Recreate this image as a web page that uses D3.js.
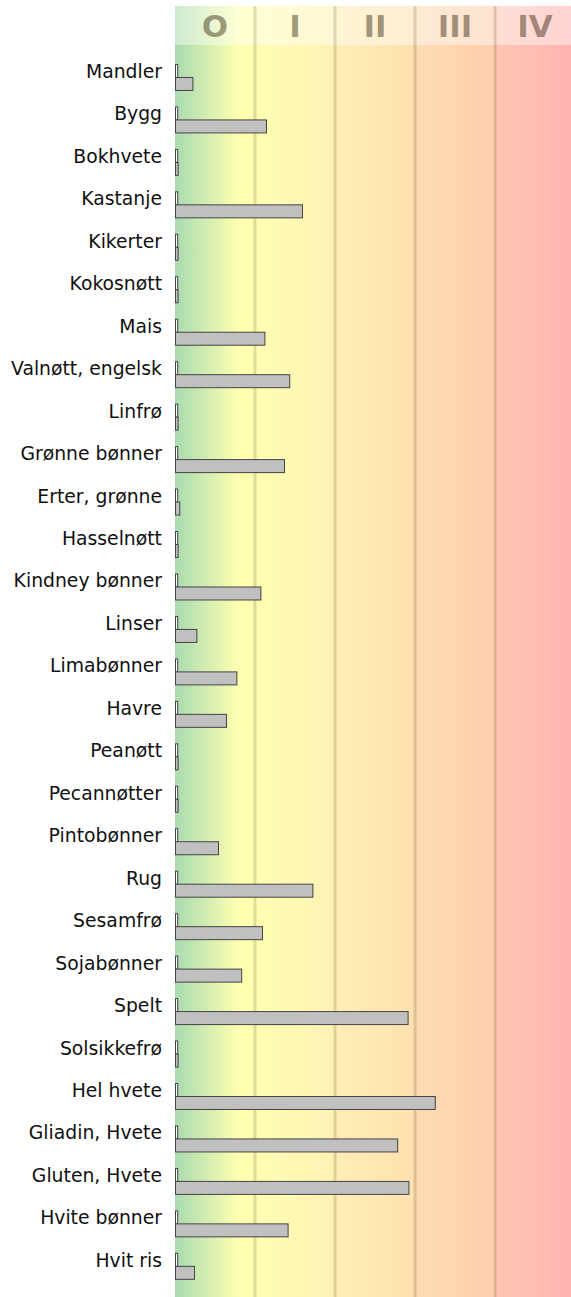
<!DOCTYPE html>
<html>
<head>
<meta charset="utf-8">
<script src="https://cdn.jsdelivr.net/npm/d3@7"></script>
<style>
    body { margin: 0; background: #fff; }
    text { font-family: "DejaVu Sans", Verdana, sans-serif; }
</style>
</head>
<body>
<svg id="chart" width="571" height="1297"></svg>
<script>
var foods = ["Mandler", "Bygg", "Bokhvete", "Kastanje", "Kikerter", "Kokosnøtt", "Mais",
    "Valnøtt, engelsk", "Linfrø", "Grønne bønner", "Erter, grønne", "Hasselnøtt",
    "Kindney bønner", "Linser", "Limabønner", "Havre", "Peanøtt", "Pecannøtter",
    "Pintobønner", "Rug", "Sesamfrø", "Sojabønner", "Spelt", "Solsikkefrø", "Hel hvete",
    "Gliadin, Hvete", "Gluten, Hvete", "Hvite bønner", "Hvit ris"]

// reference (small white bar) and measured level, in class units
var reference = [0.04, 0.04, 0.04, 0.04, 0.04, 0.04, 0.04, 0.04, 0.04, 0.04, 0.04, 0.04, 0.04, 0.04,
    0.04, 0.04, 0.04, 0.04, 0.04, 0.04, 0.04, 0.04, 0.04, 0.04, 0.04, 0.04, 0.04, 0.04, 0.04]
var level = [0.23, 1.15, 0.045, 1.6, 0.045, 0.045, 1.13, 1.44, 0.045, 1.375, 0.066, 0.045,
    1.08, 0.28, 0.78, 0.65, 0.045, 0.045, 0.55, 1.73, 1.1, 0.84, 2.92, 0.045, 3.26,
    2.79, 2.93, 1.42, 0.25]

var classes = ["O", "I", "II", "III", "IV"]
var classColors = [
    ["#a9dbb1", "#ffffb0", "#ffffb0"],
    ["#fffdb2", "#fff7b4", "#fff2b4"],
    ["#ffedb6", "#fee7b3", "#fee1b0"],
    ["#fedcb1", "#ffd5b0", "#ffcdb0"],
    ["#ffc6b4", "#ffbdb2", "#ffb3b0"]
]

function main() {
    var svg = d3.select("#chart"),
        width = +svg.attr("width"),
        height = +svg.attr("height")
    var top = 6, headerBottom = 45

    var x = d3.scaleLinear().domain([0, classes.length]).range([175, 575])
    var y = d3.scaleBand().domain(foods).range([47.5, 1295.3])
        .paddingInner(0.388).paddingOuter(0.388)
    var ySub = d3.scaleBand().domain(["reference", "level"]).range([0, y.bandwidth()])

    var defs = svg.append("defs")
    classes.forEach(function(c, i) {
        var grad = defs.append("linearGradient").attr("id", "band" + i)
        grad.selectAll("stop")
            .data(classColors[i])
            .enter().append("stop")
            .attr("offset", function(d, j) { return i == 0 ? [0, 0.8, 1][j] : [0, 0.5, 1][j] })
            .attr("stop-color", function(d) { return d })
    })

    svg.append("g").selectAll("rect")
        .data(classes)
        .enter().append("rect")
        .attr("x", function(d, i) { return x(i) })
        .attr("y", top)
        .attr("width", function(d, i) { return x(i + 1) - x(i) })
        .attr("height", height - top)
        .attr("fill", function(d, i) { return "url(#band" + i + ")" })

    svg.append("rect")
        .attr("x", x(0))
        .attr("y", top)
        .attr("width", width - x(0))
        .attr("height", headerBottom - top)
        .attr("fill", "#fff")
        .attr("opacity", 0.42)

    svg.append("g").selectAll("line")
        .data(d3.range(1, classes.length))
        .enter().append("line")
        .attr("x1", function(d) { return x(d) })
        .attr("x2", function(d) { return x(d) })
        .attr("y1", top)
        .attr("y2", height)
        .attr("stroke", "rgba(70,50,10,0.17)")
        .attr("stroke-width", 3)

    svg.append("g").selectAll("text")
        .data(classes)
        .enter().append("text")
        .attr("x", function(d, i) { return (x(i) + x(i + 1)) / 2 })
        .attr("y", 37)
        .attr("text-anchor", "middle")
        .attr("font-size", 31)
        .attr("font-weight", "bold")
        .attr("fill", "rgba(45,30,10,0.45)")
        .text(function(d) { return d })

    var rows = svg.append("g").selectAll("g")
        .data(foods)
        .enter().append("g")
        .attr("transform", function(d) { return "translate(0," + y(d) + ")" })

    rows.append("rect")
        .attr("x", x(0) + 0.5)
        .attr("y", ySub("reference") + 0.5)
        .attr("width", function(d, i) { return x(reference[i]) - x(0) - 1 })
        .attr("height", ySub.bandwidth())
        .attr("fill", "#fff")
        .attr("stroke", "#444")

    rows.append("rect")
        .attr("x", x(0) + 0.5)
        .attr("y", ySub("level") + 0.5)
        .attr("width", function(d, i) { return x(level[i]) - x(0) - 1 })
        .attr("height", ySub.bandwidth())
        .attr("fill", "#c0c0c0")
        .attr("stroke", "#444")

    rows.append("text")
        .attr("x", 162)
        .attr("y", y.bandwidth() / 2 + 1)
        .attr("text-anchor", "end")
        .attr("font-size", 18.8)
        .attr("fill", "#111")
        .text(function(d) { return d })
}

main()
</script>
</body>
</html>
